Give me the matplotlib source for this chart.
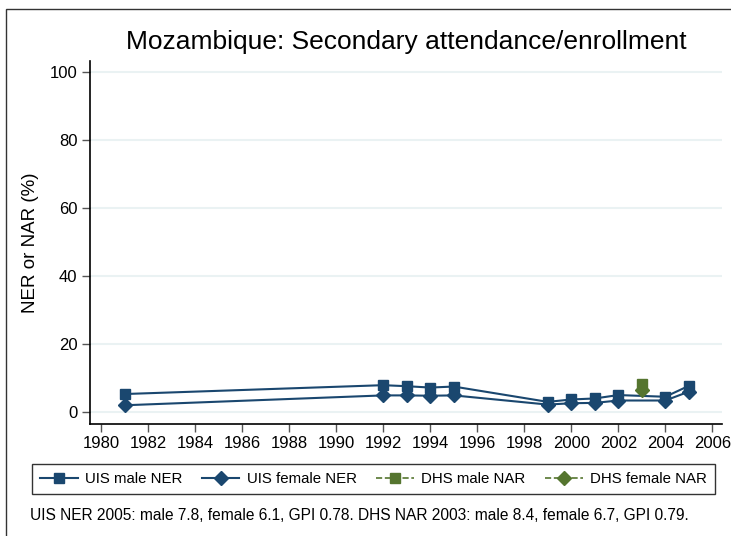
import matplotlib
matplotlib.use("Agg")
import matplotlib.pyplot as plt
from matplotlib.lines import Line2D
from matplotlib.patches import Rectangle

plt.rcParams['font.family'] = ['Liberation Sans', 'DejaVu Sans']

# UIS secondary NER by year
uis_years = [1981, 1992, 1993, 1994, 1995, 1999, 2000, 2001, 2002, 2004, 2005]
uis_male = [5.4, 8.0, 7.7, 7.3, 7.6, 3.1, 3.8, 4.1, 5.1, 4.6, 7.8]
uis_female = [2.1, 5.0, 5.0, 4.9, 5.0, 2.3, 2.7, 2.8, 3.5, 3.5, 6.1]

# DHS NAR
dhs_years = [2003]
dhs_male = [8.4]
dhs_female = [6.7]

xticks = list(range(1980, 2007, 2))
yticks = [0, 20, 40, 60, 80, 100]

navy = '#1a476f'
green = '#55752f'

fig = plt.figure(figsize=(7.31, 5.36), dpi=100)
ax = fig.add_axes([90/731, 1-424/536, 632/731, 363/536])

for y in yticks:
    ax.axhline(y, color='#eaf2f3', lw=1.5, zorder=0)

ax.plot(uis_years, uis_male, color=navy, lw=1.5, marker='s', ms=7, zorder=3)
ax.plot(uis_years, uis_female, color=navy, lw=1.5, marker='D', ms=7, zorder=3)
ax.plot(dhs_years, dhs_male, color=green, lw=1.2, ls='--', marker='s', ms=7, zorder=4)
ax.plot(dhs_years, dhs_female, color=green, lw=1.2, ls='--', marker='D', ms=7, zorder=4)

ax.set_xlim(1979.53, 2006.41)
ax.set_ylim(-3.4, 103.2)
ax.set_xticks(xticks)
ax.set_yticks(yticks)
ax.tick_params(labelsize=12, length=6, width=1, color='#555555', pad=3)
for s in ['top', 'right']:
    ax.spines[s].set_visible(False)
for s in ['left', 'bottom']:
    ax.spines[s].set_linewidth(1.2)
ax.set_ylabel('NER or NAR (%)', fontsize=13.5, labelpad=8)

fig.text(0.556, 1-42/536, 'Mozambique: Secondary attendance/enrollment',
         ha='center', va='center', fontsize=19)

handles = [
    Line2D([], [], color=navy, lw=1.5, marker='s', ms=7),
    Line2D([], [], color=navy, lw=1.5, marker='D', ms=7),
    Line2D([], [], color=green, lw=1.2, ls='--', marker='s', ms=7),
    Line2D([], [], color=green, lw=1.2, ls='--', marker='D', ms=7),
]
labels = ['UIS male NER', 'UIS female NER', 'DHS male NAR', 'DHS female NAR']
leg = fig.legend(handles, labels, ncol=4, loc='center',
                 bbox_to_anchor=(373.5/731, 1-479/536), fontsize=10.8,
                 frameon=True, fancybox=False, edgecolor='black',
                 handlelength=2.5, columnspacing=1.3, handletextpad=0.5,
                 borderpad=0.55)
leg.get_frame().set_linewidth(1.0)

fig.text(30/731, 1-515/536,
         'UIS NER 2005: male 7.8, female 6.1, GPI 0.78. DHS NAR 2003: male 8.4, female 6.7, GPI 0.79.',
         ha='left', va='center', fontsize=11.2)

fig.patches.append(Rectangle((6/731, -0.1), 1.2, 1-9/536+0.1,
                             transform=fig.transFigure, fill=False,
                             edgecolor='#333333', lw=1.0))

fig.savefig('out.png', dpi=100)
